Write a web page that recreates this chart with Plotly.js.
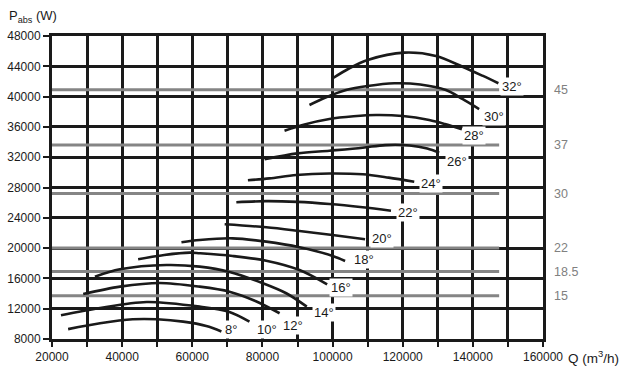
<!DOCTYPE html>
<html>
<head>
<meta charset="utf-8">
<script src="https://cdn.plot.ly/plotly-3.0.1.min.js"></script>
<style>html,body{margin:0;padding:0;background:#fff;}#chart{width:632px;height:373px;}</style>
</head>
<body>
<div id="chart"></div>
<script>
// Blade angle curves: airflow Q (m3/h) vs absorbed power (W)
const angleLabels = ['8°','10°','12°','14°','16°','18°','20°','22°','24°','26°','28°','30°','32°'];
const q8  = [24600, 33700, 43000, 50000, 57400, 64000, 68300];
const p8  = [9300, 10070, 10600, 10600, 10290, 9720, 9000];
const q10 = [22560, 33700, 47000, 62100, 70600, 76300];
const p10 = [11130, 12100, 12890, 12270, 11570, 10290];
const q12 = [28900, 39400, 50700, 62100, 70600, 78000, 84900];
const p12 = [13940, 14910, 15400, 14910, 14250, 13020, 11400];
const q14 = [32240, 39350, 52640, 62110, 70650, 80130, 86790, 92650];
const p14 = [16230, 17200, 17770, 17550, 16850, 15360, 14040, 12270];
const q16 = [44560, 52000, 59270, 62110, 71500, 81090, 90570, 98450];
const p16 = [18520, 19090, 19400, 19320, 18960, 18340, 17110, 15220];
const q18 = [56910, 62110, 71500, 81090, 90570, 100040, 103570];
const p18 = [20770, 21070, 21290, 20850, 20110, 18960, 18300];
const q20 = [69230, 81090, 90570, 99960, 109260];
const p20 = [23140, 22750, 22260, 21730, 21160];
const q22 = [72560, 81000, 90000, 99100, 108580, 116660];
const p22 = [26050, 26200, 26100, 25820, 25390, 24940];
const q24 = [75860, 82000, 89630, 99100, 108580, 116000, 123290];
const p24 = [28950, 29200, 29650, 29850, 29740, 29300, 28770];
const q26 = [80610, 90000, 99100, 108580, 115000, 122000, 127000, 130410];
const p26 = [31720, 32510, 32860, 33250, 33600, 33550, 33150, 32600];
const q28 = [86300, 92000, 99100, 106000, 112390, 120000, 127560, 132000, 136870];
const p28 = [35500, 36320, 37040, 37400, 37570, 37440, 36910, 36380, 35680];
const q30 = [93410, 98000, 103860, 110000, 117600, 125000, 132310, 137000, 141790];
const p30 = [38890, 39880, 40870, 41400, 41760, 41600, 40870, 39700, 38360];
const q32 = [100050, 104800, 110000, 120450, 129460, 137040, 142730, 147280];
const p32 = [42420, 43740, 44830, 45800, 45360, 43950, 42760, 41760];

// Motor power lines (kW labels, W level)
const motorKW = ['45', '37', '30', '22', '18.5', '15'];
const motorW  = [40900, 33600, 27200, 20000, 16900, 13700];
const motorQStart = 20000;
const motorQEnd = 147500;

// Axis ticks
const xTickVals = [20000,40000,60000,80000,100000,120000,140000,160000];
const xTickText = ['20000','40000','60000','80000','100000','120000','140000','160000'];
const yTickVals = [8000,12000,16000,20000,24000,28000,32000,36000,40000,44000,48000];
const yTickText = ['8000','12000','16000','20000','24000','28000','32000','36000','40000','44000','48000'];

const curvesQ = [q8,q10,q12,q14,q16,q18,q20,q22,q24,q26,q28,q30,q32];
const curvesP = [p8,p10,p12,p14,p16,p18,p20,p22,p24,p26,p28,p30,p32];

// label offsets in pixels relative to curve end (style only)
const labelShift = [[2,2],[6,-8],[1,-12],[5,-6],[2,-3],[7,1],[5,1],[5,-2],[5,-2],[6,-9],[0,-6],[3,-7],[2,-3]];

const traces = [];
motorW.forEach(function(w){
  traces.push({x:[motorQStart, motorQEnd], y:[w, w], mode:'lines', type:'scatter',
    line:{color:'#858585', width:3}, hoverinfo:'skip', showlegend:false});
});
curvesQ.forEach(function(q, i){
  traces.push({x:q, y:curvesP[i], mode:'lines', type:'scatter',
    line:{color:'#1a1a1a', width:2.6, shape:'spline', smoothing:0.9}, hoverinfo:'skip', showlegend:false});
});

const FONT = 'Liberation Sans, Arial, sans-serif';
const annotations = [];
curvesQ.forEach(function(q, i){
  annotations.push({x:q[q.length-1], y:curvesP[i][curvesP[i].length-1], xref:'x', yref:'y',
    text:angleLabels[i], showarrow:false, xanchor:'left', yanchor:'middle',
    xshift:labelShift[i][0], yshift:labelShift[i][1], bgcolor:'#ffffff', borderpad:1,
    font:{family:FONT, size:13, color:'#1a1a1a'}});
});
motorKW.forEach(function(k, i){
  annotations.push({x:1.0183, y:motorW[i], xref:'paper', yref:'y', text:k, showarrow:false,
    xanchor:'left', yanchor:'middle',
    font:{family:FONT, size:12.5, color:'#808080'}});
});
annotations.push({x:-0.0916, y:1.066, xref:'paper', yref:'paper', text:'P<sub>abs</sub> (W)',
  showarrow:false, xanchor:'left', yanchor:'middle',
  font:{family:FONT, size:13, color:'#1a1a1a'}});
annotations.push({x:1.047, y:-0.0594, xref:'paper', yref:'paper', text:'Q (m<sup>3</sup>/h)',
  showarrow:false, xanchor:'left', yanchor:'middle',
  font:{family:FONT, size:13.5, color:'#1a1a1a'}});

const layout = {
  width:632, height:373,
  margin:{l:52, r:89, t:36, b:34},
  paper_bgcolor:'#ffffff', plot_bgcolor:'#ffffff',
  font:{family:FONT, size:12, color:'#1a1a1a'},
  xaxis:{range:[20000,160000], tickmode:'array', tickvals:xTickVals, ticktext:xTickText,
    showgrid:true, gridcolor:'#1a1a1a', gridwidth:3, zeroline:false,
    showline:true, linecolor:'#1a1a1a', linewidth:3, mirror:true,
    ticks:'outside', ticklen:5, tickwidth:2, tickcolor:'#1a1a1a',
    minor:{dtick:10000, tick0:20000, ticks:'outside', ticklen:5, tickwidth:2, tickcolor:'#1a1a1a',
      showgrid:true, gridcolor:'#1a1a1a', gridwidth:3},
    tickfont:{size:12, color:'#1a1a1a'}, fixedrange:true},
  yaxis:{range:[8000,48000], tickmode:'array', tickvals:yTickVals, ticktext:yTickText,
    showgrid:true, gridcolor:'#1a1a1a', gridwidth:3, zeroline:false,
    showline:true, linecolor:'#1a1a1a', linewidth:3, mirror:true,
    ticks:'outside', ticklen:6, tickwidth:2, tickcolor:'#1a1a1a',
    tickfont:{size:12, color:'#1a1a1a'}, fixedrange:true},
  annotations:annotations,
  showlegend:false
};
Plotly.newPlot('chart', traces, layout, {staticPlot:true, displayModeBar:false});
</script>
</body>
</html>
